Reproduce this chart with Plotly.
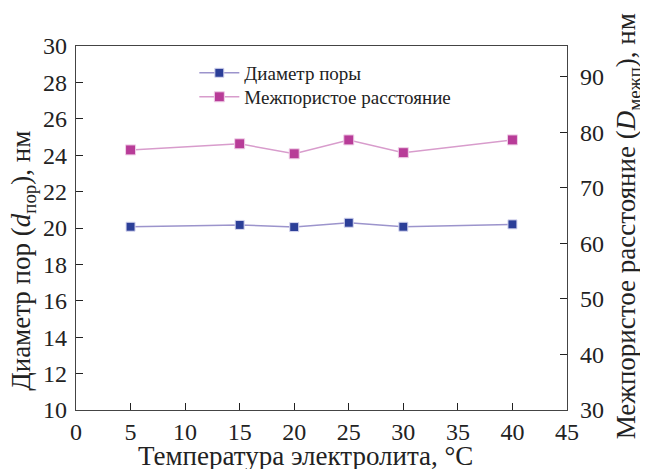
import plotly.graph_objects as go

temps = [5, 15, 20, 25, 30, 40]
pore_diameter = [20.07, 20.17, 20.05, 20.29, 20.07, 20.2]
interpore_distance = [76.8, 77.9, 76.1, 78.6, 76.3, 78.6]

name_d = "Диаметр поры"
name_D = "Межпористое расстояние"
x_title = "Температура электролита, °C"
y1_title = "Диаметр пор (<i>d</i><sub>пор</sub>), нм"
y2_title = "Межпористое расстояние (<i>D</i><sub>межп</sub>), нм"

font_family = "Liberation Serif, Times New Roman, serif"
TICK = 24
TITLE = 27
INK = "#222"

fig = go.Figure()
fig.add_trace(go.Scatter(
    x=temps, y=pore_diameter, name=name_d, mode="lines+markers",
    line=dict(color="#9c94cc", width=1.5),
    marker=dict(symbol="square", size=9, color="#2c3f98",
                line=dict(color="#d8d8f0", width=1)),
    yaxis="y", legend="legend"))
fig.add_trace(go.Scatter(
    x=temps, y=interpore_distance, name=name_D, mode="lines+markers",
    line=dict(color="#d89ccc", width=1.5),
    marker=dict(symbol="square", size=10, color="#b83c98",
                line=dict(color="#f0d0e8", width=1)),
    yaxis="y2", legend="legend2"))

axis_common = dict(
    showline=True, linecolor="#444", linewidth=1.2,
    ticks="inside", ticklen=7, tickcolor=INK, tickwidth=1.2,
    showgrid=False, zeroline=False, automargin=False,
    tickfont=dict(family=font_family, size=TICK, color=INK),
)

legend_common = dict(xanchor="left", yanchor="middle", bgcolor="rgba(0,0,0,0)",
                     font=dict(family=font_family, size=19, color=INK),
                     itemwidth=40)

# page body has an 8px margin: compensate so the plot area sits at
# x 76..567, y 46..410 in the window
fig.update_layout(
    width=648, height=469,
    margin=dict(l=68, r=89, t=38, b=67),
    paper_bgcolor="white", plot_bgcolor="white",
    font=dict(family=font_family, color=INK),
    showlegend=True,
    legend=dict(x=0.241, y=0.926, **legend_common),
    legend2=dict(x=0.241, y=0.86, **legend_common),
    xaxis=dict(range=[0, 45], tickvals=[0, 5, 10, 15, 20, 25, 30, 35, 40, 45],
               mirror=True, **axis_common),
    yaxis=dict(range=[10, 30], tickvals=list(range(10, 31, 2)),
               ticklabelstandoff=3, **axis_common),
    yaxis2=dict(range=[30, 95.5], tickvals=[30, 40, 50, 60, 70, 80, 90],
                overlaying="y", side="right", ticklabelstandoff=7,
                **axis_common),
    annotations=[
        dict(text=x_title, xref="paper", yref="paper", x=0.4664, y=-0.127,
             xanchor="center", yanchor="middle", showarrow=False,
             font=dict(family=font_family, size=TITLE, color=INK)),
        dict(text=y1_title, xref="paper", yref="paper", x=-0.108, y=0.41,
             xanchor="center", yanchor="middle", showarrow=False, textangle=-90,
             font=dict(family=font_family, size=TITLE, color=INK)),
        dict(text=y2_title, xref="paper", yref="paper", x=1.125, y=0.5055,
             xanchor="center", yanchor="middle", showarrow=False, textangle=-90,
             font=dict(family=font_family, size=TITLE, color=INK)),
    ],
)

fig.write_html("out.html")
